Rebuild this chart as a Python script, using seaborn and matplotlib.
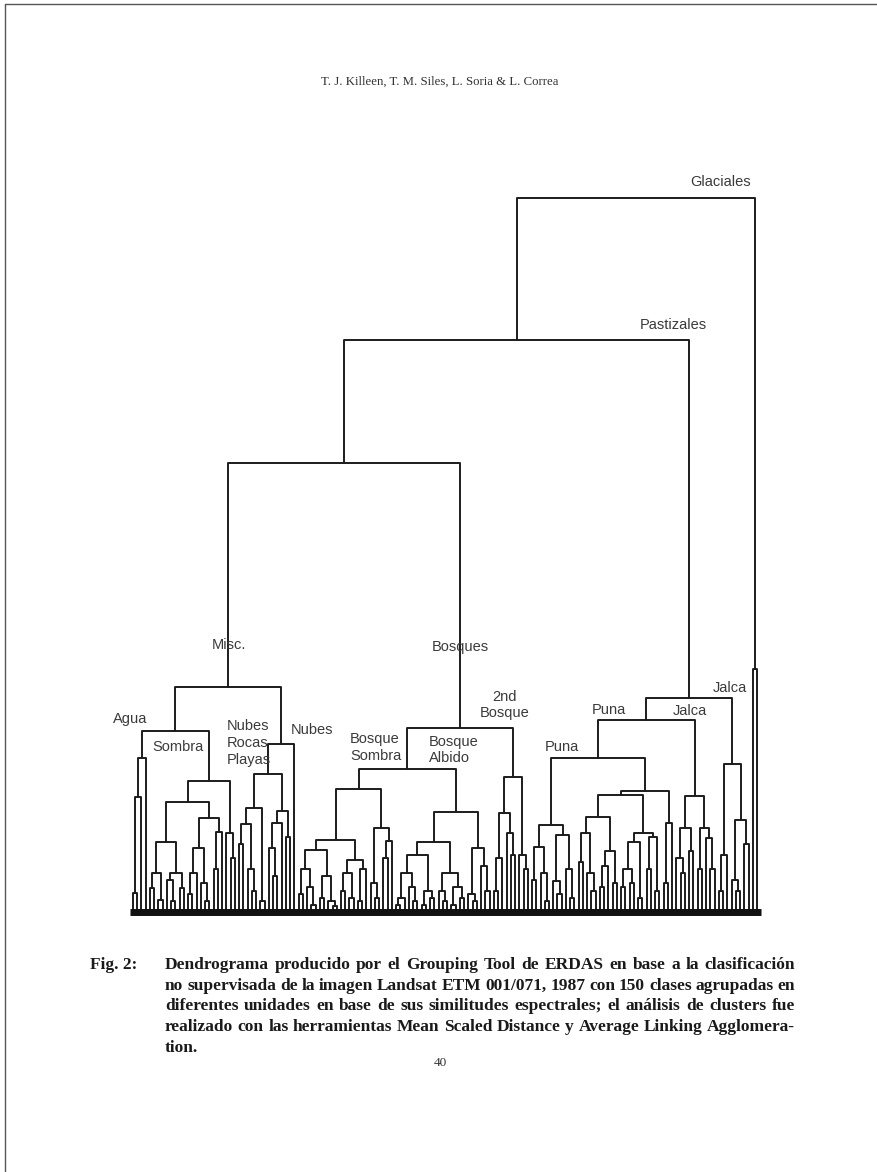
import numpy as np
import pandas as pd
import matplotlib.pyplot as plt
import seaborn as sns
from matplotlib.lines import Line2D

sns.set_theme(style="white")
plt.rcParams['font.family'] = ['Liberation Sans', 'DejaVu Sans']

# nodos: [distancia, izquierda, derecha]; 0 = hoja (clase espectral)
agua = [21.6, [16.1, [2.7, 0, 0], 0], 0]
sombra = [18.3,
          [15.4,
           [9.8, [5.5, [3.4, 0, 0], [1.7, 0, 0]], [5.5, [4.5, 0, [1.5, 0, 0]], [3.4, 0, 0]]],
           [13.2, [9.0, [5.5, [2.5, 0, 0], 0], [4.0, 0, [1.5, 0, 0]]], [11.2, [6.0, 0, 0], 0]]],
          [11.1, 0, [7.6, 0, 0]]]
nubes_rocas = [19.3,
               [14.6, [12.3, [9.5, 0, 0], [6.0, 0, [3.0, 0, 0]]], [1.5, 0, 0]],
               [14.1, [12.5, [9.0, 0, [5.0, 0, 0]], 0], [10.5, 0, 0]]]
nubes = 0
bosque_sombra = [17.2,
                 [10.1,
                  [8.7, [6.0, [2.5, 0, 0], [3.5, 0, [1.0, 0, 0]]], [5.0, [2.0, 0, 0], [1.5, 0, [0.8, 0, 0]]]],
                  [7.3, [5.5, [3.0, 0, 0], [2.0, 0, 0]], [6.0, [1.5, 0, 0], 0]]],
                 [11.8, [4.0, 0, [2.0, 0, 0]], [10.0, [7.5, 0, 0], 0]]]
bosque_albido = [14.0,
                 [9.8,
                  [8.0, [5.5, [2.0, [1.0, 0, 0], 0], [3.5, 0, [1.5, 0, 0]]], [3.0, [1.0, 0, 0], [2.0, 0, 0]]],
                  [5.5, [3.0, 0, [1.5, 0, 0]], [3.5, [1.0, 0, 0], [2.0, 0, 0]]]],
                 [9.0, [2.5, 0, [1.5, 0, 0]], [6.5, 0, [3.0, 0, 0]]]]
bosque_2do = [18.9,
              [13.9, [7.5, [3.0, 0, 0], 0], [11.0, 0, [8.0, 0, 0]]],
              [8.0, 0, [6.0, 0, 0]]]
puna_baja = [12.2,
             [9.1, [4.5, 0, 0], [5.5, 0, [1.5, 0, 0]]],
             [10.8, [4.3, 0, [2.5, 0, 0]], [6.0, 0, [2.0, 0, 0]]]]
puna_alta = [16.9,
             [16.4,
              [13.3, [11.0, [7.0, 0, 0], [5.5, 0, [3.0, 0, 0]]], [8.5, [6.5, [3.5, 0, 0], 0], [4.0, 0, 0]]],
              [11.1, [9.8, [6.0, [3.5, 0, 0], [4.0, 0, 0]], [2.0, 0, 0]], [10.5, [6.0, 0, 0], [3.0, 0, 0]]]],
             [12.5, [4.0, 0, 0], 0]]
jalca_int = [16.2,
             [11.8, [7.5, 0, [5.5, 0, 0]], [8.5, 0, 0]],
             [11.8, [6.0, 0, 0], [10.3, 0, [6.0, 0, 0]]]]
jalca_der = [20.7,
             [8.0, [3.0, 0, 0], 0],
             [12.9, [4.5, 0, [3.0, 0, 0]], [9.5, 0, 0]]]
glaciales = [34.0, 0, 0]

misc = [31.5, [25.4, agua, sombra], [23.5, nubes_rocas, nubes]]
bosques = [25.8, [20.0, bosque_sombra, bosque_albido], bosque_2do]
puna_jalca = [30.0, [26.9, [21.6, puna_baja, puna_alta], jalca_int], jalca_der]
arbol = [100.0, [80.1, [62.9, misc, bosques], puna_jalca], glaciales]

etiquetas = ["Glaciales", "Pastizales", "Misc.", "Bosques", "Agua", "Sombra",
             "Nubes\nRocas\nPlayas", "Nubes", "Bosque\nSombra", "Bosque\nAlbido",
             "2nd\nBosque", "Puna", "Puna", "Jalca", "Jalca"]
etiq_x = [131.2, 119.4, 18.6, 70.4, -4.7, 4.5, 22.1, 37.2, 51.1, 69.7, 87.6, 97.1, 108.1, 127.2, 136.6]
etiq_y = [102.2, 82.2, 37.4, 37.1, 27.0, 23.1, 23.7, 25.5, 23.0, 22.7, 29.0, 23.1, 28.3, 28.2, 31.4]

leyenda = ["Dendrograma producido por el Grouping Tool de ERDAS en base a la clasificación",
           "no supervisada de la imagen Landsat ETM 001/071, 1987 con 150 clases agrupadas en",
           "diferentes unidades en base de sus similitudes espectrales; el análisis de clusters fue",
           "realizado con las herramientas Mean Scaled Distance y Average Linking Agglomera-",
           "tion."]

# --- recorrido del árbol -> segmentos en U ---
filas = []
cont = [0]


def recorrer(nodo):
    if not isinstance(nodo, list):
        x = cont[0]
        cont[0] += 1
        return x, 0.0
    h, a, b = nodo
    xa, ha = recorrer(a)
    xb, hb = recorrer(b)
    k = len(filas) // 4
    for px, py in [(xa, ha), (xa, h), (xb, h), (xb, hb)]:
        filas.append({"nodo": k, "x": px, "h": py})
    return (xa + xb) / 2, h


recorrer(arbol)
n_hojas = cont[0]
df = pd.DataFrame(filas)

W, H = 878, 1172
fig = plt.figure(figsize=(W / 100, H / 100), dpi=100)
ax = fig.add_axes([124.5 / W, (H - 922.7) / H, 641 / W, (922.7 - 155.2) / H])

sns.lineplot(data=df, x="x", y="h", units="nodo", estimator=None, sort=False,
             color="#1c1c1c", lw=1.4, ax=ax, legend=False)
ax.plot([-0.7, n_hojas - 0.1], [0.05, 0.05], color="#111111", lw=5, solid_capstyle="butt")

for t, x, y in zip(etiquetas, etiq_x, etiq_y):
    ha = "center" if t.startswith("2nd") else "left"
    ax.text(x, y, t, ha=ha, va="center", fontsize=10.5, color="#3a3a3a", linespacing=1.25)

ax.set_xlim(-2, 149)
ax.set_ylim(-1.5, 106)
ax.axis("off")

# --- texto de la página ---
serif = ["Liberation Serif", "DejaVu Serif"]
fig.text(440 / W, 1 - 82 / H, "T. J. Killeen, T. M. Siles, L. Soria & L. Correa",
         ha="center", va="center", fontsize=9.2, family=serif, color="#333333")
fig.text(90 / W, 1 - 965 / H, "Fig. 2:", ha="left", va="center", fontsize=12.5,
         family=serif, weight="bold", color="#1a1a1a")
fig.text(440 / W, 1 - 1063 / H, "40", ha="center", va="center", fontsize=9.5,
         family=serif, color="#333333")

fig.canvas.draw()
rend = fig.canvas.get_renderer()
x0, x1 = 165, 795
for i, linea in enumerate(leyenda):
    y = 1 - (965 + i * 20.7) / H
    palabras = linea.split()
    textos = [fig.text(0, y, p, ha="left", va="center", fontsize=12.5, family=serif,
                       weight="bold", color="#1a1a1a") for p in palabras]
    anchos = [t.get_window_extent(rend).width for t in textos]
    if i < len(leyenda) - 1 and len(palabras) > 1:
        hueco = (x1 - x0 - sum(anchos)) / (len(palabras) - 1)
    else:
        hueco = 4.0
    xp = x0
    for t, w in zip(textos, anchos):
        t.set_x(xp / W)
        xp += w + hueco

# borde de la hoja escaneada
fig.add_artist(Line2D([5 / W, 1], [1 - 4 / H, 1 - 4 / H], color="#555555", lw=1))
fig.add_artist(Line2D([5 / W, 5 / W], [0, 1 - 4 / H], color="#555555", lw=1))

fig.savefig("out.png", dpi=100)
